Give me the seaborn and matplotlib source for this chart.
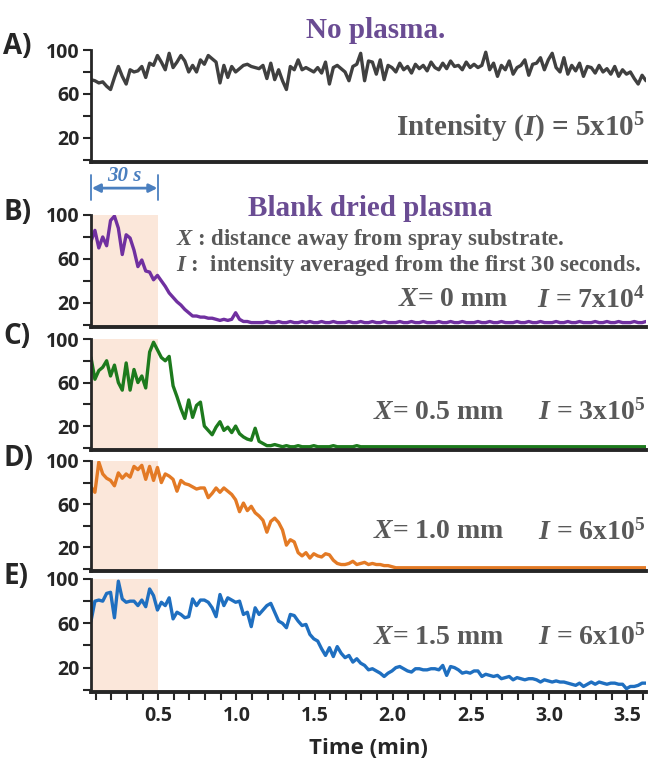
import numpy as np
import pandas as pd
import matplotlib
matplotlib.use('Agg')
import matplotlib.pyplot as plt
import matplotlib.transforms as mtransforms
from matplotlib.ticker import MultipleLocator, FixedLocator
import seaborn as sns

# relative intensity (%), one scan every 1.5 s
no_plasma = [73, 72, 70, 71, 67, 64, 75, 85, 76, 69,
             82, 80, 81, 85, 75, 88, 86, 95, 89, 82,
             97, 84, 89, 95, 90, 80, 86, 80, 91, 87,
             95, 92, 89, 70, 86, 75, 85, 80, 83, 86,
             87, 85, 84, 83, 86, 74, 88, 73, 82, 72,
             64, 85, 82, 91, 82, 84, 82, 80, 84, 79,
             89, 69, 84, 86, 83, 80, 72, 85, 87, 97,
             72, 90, 89, 78, 91, 73, 86, 84, 80, 88,
             82, 85, 79, 87, 83, 86, 81, 89, 84, 82,
             88, 83, 90, 85, 86, 82, 89, 84, 87, 84,
             86, 98, 82, 88, 76, 86, 82, 90, 78, 84,
             86, 91, 77, 87, 88, 93, 82, 91, 97, 84,
             80, 93, 78, 86, 81, 88, 76, 85, 84, 79,
             86, 80, 83, 78, 85, 76, 82, 78, 80, 74,
             69, 77, 72]

x_0mm = [76, 86, 70, 80, 72, 95, 99, 88, 64, 82,
         79, 68, 53, 59, 49, 48, 41, 45, 40, 35,
         29, 25, 21, 18, 14, 11, 8, 8, 7, 7,
         6, 6, 5, 4, 5, 4, 5, 11, 5, 3,
         3, 2, 2, 2, 2, 3, 2, 2, 3, 2,
         2, 3, 2, 2, 3, 2, 3, 2, 2, 3,
         2, 2, 3, 2, 2, 2, 3, 2, 2, 3,
         2, 2, 3, 2, 2, 3, 2, 2, 2, 3,
         2, 2, 3, 2, 2, 3, 2, 2, 2, 3,
         2, 2, 3, 2, 2, 3, 2, 2, 2, 3,
         2, 2, 3, 2, 2, 3, 2, 2, 2, 3,
         2, 2, 3, 2, 2, 3, 2, 2, 2, 3,
         2, 2, 3, 2, 2, 3, 2, 2, 2, 3,
         2, 2, 3, 2, 2, 3, 2, 2, 2, 3,
         2, 2, 3]

x_05mm = [83, 63, 71, 74, 80, 66, 76, 60, 53, 78,
          53, 72, 60, 66, 55, 88, 97, 90, 83, 80,
          84, 57, 47, 36, 27, 44, 28, 39, 42, 20,
          16, 12, 19, 24, 16, 19, 14, 20, 13, 10,
          8, 7, 18, 6, 4, 2, 2, 3, 2, 1,
          2, 1, 1, 2, 1, 1, 1, 2, 1, 1,
          1, 1, 2, 1, 1, 1, 1, 1, 2, 1,
          1, 1, 1, 1, 1, 1, 1, 1, 1, 1,
          1, 1, 1, 1, 1, 1, 1, 1, 1, 1,
          1, 1, 1, 1, 1, 1, 1, 1, 1, 1,
          1, 1, 1, 1, 1, 1, 1, 1, 1, 1,
          1, 1, 1, 1, 1, 1, 1, 1, 1, 1,
          1, 1, 1, 1, 1, 1, 1, 1, 1, 1,
          1, 1, 1, 1, 1, 1, 1, 1, 1, 1,
          1, 1, 1]

x_10mm = [76, 71, 99, 88, 84, 82, 77, 89, 84, 88,
          85, 95, 92, 96, 83, 95, 82, 94, 80, 88,
          86, 83, 72, 82, 79, 78, 76, 74, 75, 75,
          66, 70, 75, 71, 75, 72, 69, 64, 53, 61,
          54, 58, 52, 49, 45, 34, 44, 47, 43, 36,
          22, 27, 25, 15, 12, 15, 10, 14, 12, 11,
          14, 13, 8, 5, 4, 4, 5, 7, 4, 5,
          6, 4, 5, 4, 4, 3, 3, 2, 1, 1,
          1, 1, 1, 1, 1, 1, 1, 1, 1, 1,
          1, 1, 1, 1, 1, 1, 1, 1, 1, 1,
          1, 1, 1, 1, 1, 1, 1, 1, 1, 1,
          1, 1, 1, 1, 1, 1, 1, 1, 1, 1,
          1, 1, 1, 1, 1, 1, 1, 1, 1, 1,
          1, 1, 1, 1, 1, 1, 1, 1, 1, 1,
          1, 1, 1]

x_15mm = [62, 80, 81, 80, 87, 88, 65, 98, 82, 79,
          80, 80, 76, 81, 75, 91, 85, 72, 79, 76,
          83, 64, 70, 68, 65, 66, 82, 76, 81, 81,
          79, 74, 66, 86, 76, 83, 81, 79, 80, 68,
          70, 57, 74, 68, 72, 76, 78, 70, 62, 60,
          56, 68, 67, 62, 58, 59, 50, 46, 44, 37,
          31, 38, 30, 39, 33, 29, 31, 25, 28, 24,
          22, 18, 19, 17, 15, 12, 15, 17, 20, 21,
          19, 17, 16, 19, 19, 18, 18, 19, 19, 18,
          22, 13, 21, 20, 18, 15, 16, 15, 17, 17,
          12, 14, 13, 12, 13, 10, 11, 12, 9, 11,
          10, 9, 10, 10, 9, 7, 9, 8, 7, 8,
          7, 7, 6, 5, 4, 6, 3, 5, 7, 5,
          7, 6, 5, 6, 6, 5, 5, 1, 3, 3,
          4, 6, 6]

scan_time = np.linspace(0.07, 3.62, len(no_plasma))

panel_labels = ['A)', 'B)', 'C)', 'D)', 'E)']
line_colors = ['#404040', '#7030a0', '#1d7a1d', '#e37a25', '#1f6fc0']
series = [no_plasma, x_0mm, x_05mm, x_10mm, x_15mm]
x_notes = [None, '0 mm', '0.5 mm', '1.0 mm', '1.5 mm']
i_notes = [None, r'7x10$^{4}$', r'3x10$^{5}$', r'6x10$^{5}$', r'6x10$^{5}$']

sns.set_style('ticks')
plt.rcParams['font.family'] = ['Open Sans', 'DejaVu Sans']
plt.rcParams['font.weight'] = 'bold'
plt.rcParams['mathtext.fontset'] = 'custom'
plt.rcParams['mathtext.rm'] = 'Liberation Serif:bold'
plt.rcParams['mathtext.it'] = 'Liberation Serif:italic:bold'
plt.rcParams['mathtext.bf'] = 'Liberation Serif:bold'

W, H = 649, 759
fig = plt.figure(figsize=(W / 100, H / 100), dpi=100)

# (top of y=100, bottom spine) in pixels for each panel
panel_px = [(50, 162), (215, 327), (339, 450), (461, 571), (579, 692)]
left_px, right_px = 91, 646

serif = 'Liberation Serif'
gray = '#595959'
purple_title = '#6a4c93'
shade = '#fbe7da'

axes = []
for k, (top, bot) in enumerate(panel_px):
    ax = fig.add_axes([left_px / W, 1 - bot / H, (right_px - left_px) / W, (bot - top) / H])
    ax.patch.set_alpha(0)
    df = pd.DataFrame({'time': scan_time, 'intensity': series[k]})
    if k > 0:
        ax.axvspan(0.07, 0.5, color=shade, lw=0, zorder=0)
    sns.lineplot(data=df, x='time', y='intensity', ax=ax, color=line_colors[k], lw=2.4, zorder=3)
    ax.set_xlim(0.07, 3.62)
    ax.set_ylim(-2, 100)
    ax.set_xlabel('')
    ax.set_ylabel('')
    for s in ['top', 'right']:
        ax.spines[s].set_visible(False)
    ax.spines['left'].set_linewidth(2.0)
    ax.spines['bottom'].set_linewidth(2.8)
    ax.spines['left'].set_zorder(4)
    ax.spines['bottom'].set_zorder(4)
    ax.yaxis.set_major_locator(FixedLocator([20, 60, 100]))
    ax.yaxis.set_minor_locator(FixedLocator([0, 40, 80]))
    ax.tick_params(axis='y', which='both', direction='out', length=6, width=1.5, labelsize=14, pad=2)
    for lab in ax.get_yticklabels():
        lab.set_fontweight('bold')
    if k < 4:
        ax.tick_params(axis='x', which='both', bottom=False, labelbottom=False)
    else:
        ax.xaxis.set_major_locator(MultipleLocator(0.5))
        ax.xaxis.set_minor_locator(MultipleLocator(0.1))
        ax.set_xticks([0.5, 1.0, 1.5, 2.0, 2.5, 3.0, 3.5])
        ax.tick_params(axis='x', which='both', direction='out', length=6, width=1.5, labelsize=14, pad=4)
        for lab in ax.get_xticklabels():
            lab.set_fontweight('bold')
        ax.set_xlabel('Time (min)', fontsize=16, fontweight='bold', labelpad=9)
    fig.text(3 / W, 1 - (top - 3) / H, panel_labels[k], fontsize=20, fontweight='bold',
             ha='left', va='center')
    axes.append(ax)

# panel A notes
fig.text(376 / W, 1 - 30 / H, 'No plasma.', family=serif, fontsize=21, fontweight='bold',
         color=purple_title, ha='center', va='center')
fig.text(645 / W, 1 - 128 / H, r'Intensity ($\mathit{I}$) = 5x10$^{5}$', family=serif,
         fontsize=21, fontweight='bold', color=gray, ha='right', va='center')

# panel B header
fig.text(370 / W, 1 - 209 / H, 'Blank dried plasma', family=serif, fontsize=21, fontweight='bold',
         color=purple_title, ha='center', va='center')
fig.text(176 / W, 1 - 240 / H, r'$\mathit{X}$ : distance away from spray substrate.', family=serif,
         fontsize=16.5, fontweight='bold', color=gray, ha='left', va='center')
fig.text(176 / W, 1 - 266 / H, r'$\mathit{I}$ :  intensity averaged from the first 30 seconds.',
         family=serif, fontsize=16.5, fontweight='bold', color=gray, ha='left', va='center')

# per-panel distance / intensity notes
note_y = [None, 300, 412, 532, 637]
note_x = [None, 398, 373, 373, 373]
for k in range(1, 5):
    fig.text(note_x[k] / W, 1 - note_y[k] / H, r'$\mathit{X}$= ' + x_notes[k], family=serif,
             fontsize=20, fontweight='bold', color=gray, ha='left', va='center')
    fig.text(645 / W, 1 - note_y[k] / H, r'$\mathit{I}$ = ' + i_notes[k], family=serif,
             fontsize=20, fontweight='bold', color=gray, ha='right', va='center')

# 30 s bracket above panel B
axb = axes[1]
trans = mtransforms.blended_transform_factory(axb.transData, axb.transAxes)
arrow_blue = '#4a7fbf'
for xv in [0.07, 0.5]:
    axb.plot([xv, xv], [1.13, 1.36], transform=trans, color=arrow_blue, lw=1.3, clip_on=False)
axb.annotate('', xy=(0.075, 1.24), xytext=(0.495, 1.24), xycoords=trans, textcoords=trans,
             arrowprops=dict(arrowstyle='<|-|>', color=arrow_blue, lw=2, mutation_scale=12,
                             shrinkA=0, shrinkB=0))
axb.text(0.285, 1.35, '30 s', transform=trans, family=serif, style='italic', fontweight='bold',
         fontsize=15, color=arrow_blue, ha='center', va='center')

fig.savefig('out.png', dpi=100)
